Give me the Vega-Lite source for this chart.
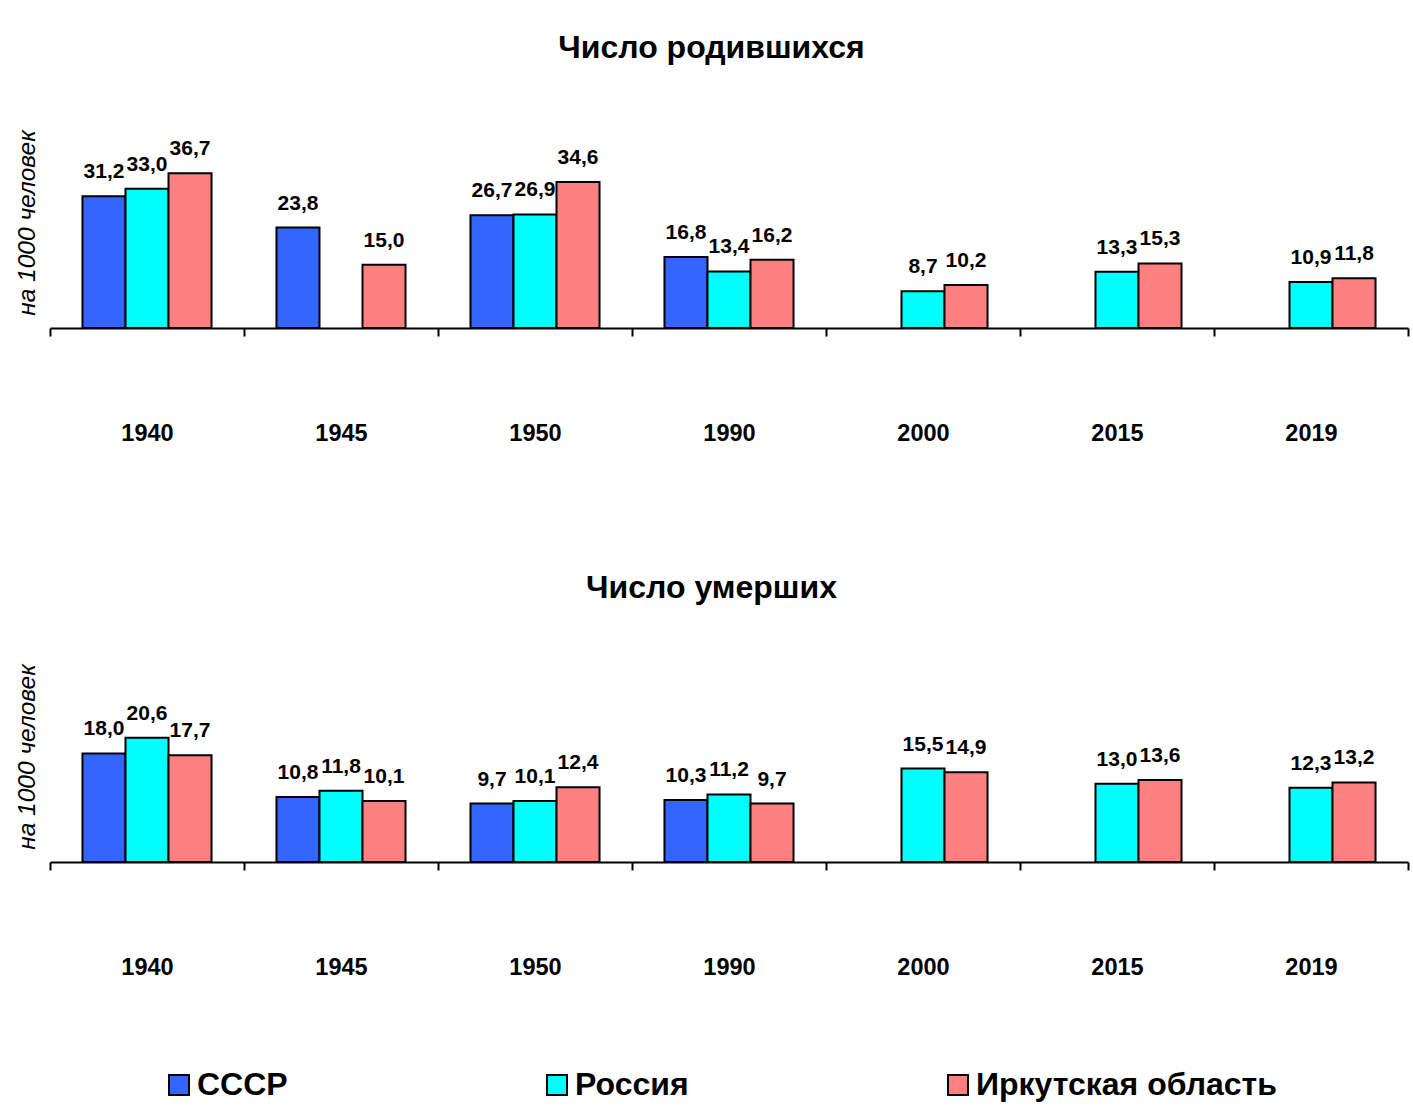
{
  "$schema": "https://vega.github.io/schema/vega-lite/v6.json",
  "background": "#ffffff",
  "padding": {"left": 14, "top": 32, "right": 5, "bottom": 5},
  "datasets": {
    "births": [
      {"year": "1940", "region": "СССР", "value": 31.2},
      {"year": "1940", "region": "Россия", "value": 33.0},
      {"year": "1940", "region": "Иркутская область", "value": 36.7},
      {"year": "1945", "region": "СССР", "value": 23.8},
      {"year": "1945", "region": "Иркутская область", "value": 15.0},
      {"year": "1950", "region": "СССР", "value": 26.7},
      {"year": "1950", "region": "Россия", "value": 26.9},
      {"year": "1950", "region": "Иркутская область", "value": 34.6},
      {"year": "1990", "region": "СССР", "value": 16.8},
      {"year": "1990", "region": "Россия", "value": 13.4},
      {"year": "1990", "region": "Иркутская область", "value": 16.2},
      {"year": "2000", "region": "Россия", "value": 8.7},
      {"year": "2000", "region": "Иркутская область", "value": 10.2},
      {"year": "2015", "region": "Россия", "value": 13.3},
      {"year": "2015", "region": "Иркутская область", "value": 15.3},
      {"year": "2019", "region": "Россия", "value": 10.9},
      {"year": "2019", "region": "Иркутская область", "value": 11.8}
    ],
    "deaths": [
      {"year": "1940", "region": "СССР", "value": 18.0},
      {"year": "1940", "region": "Россия", "value": 20.6},
      {"year": "1940", "region": "Иркутская область", "value": 17.7},
      {"year": "1945", "region": "СССР", "value": 10.8},
      {"year": "1945", "region": "Россия", "value": 11.8},
      {"year": "1945", "region": "Иркутская область", "value": 10.1},
      {"year": "1950", "region": "СССР", "value": 9.7},
      {"year": "1950", "region": "Россия", "value": 10.1},
      {"year": "1950", "region": "Иркутская область", "value": 12.4},
      {"year": "1990", "region": "СССР", "value": 10.3},
      {"year": "1990", "region": "Россия", "value": 11.2},
      {"year": "1990", "region": "Иркутская область", "value": 9.7},
      {"year": "2000", "region": "Россия", "value": 15.5},
      {"year": "2000", "region": "Иркутская область", "value": 14.9},
      {"year": "2015", "region": "Россия", "value": 13.0},
      {"year": "2015", "region": "Иркутская область", "value": 13.6},
      {"year": "2019", "region": "Россия", "value": 12.3},
      {"year": "2019", "region": "Иркутская область", "value": 13.2}
    ]
  },
  "vconcat": [
    {
      "title": {"text": "Число родившихся", "offset": 52},
      "width": 1358,
      "height": 211,
      "data": {"name": "births"},
      "encoding": {
        "x": {"field": "year", "type": "nominal", "sort": null,
              "scale": {"paddingInner": 0, "paddingOuter": 0},
              "axis": {"title": null}},
        "xOffset": {"field": "region", "type": "nominal", "sort": ["СССР", "Россия", "Иркутская область"],
                    "scale": {"domain": ["СССР", "Россия", "Иркутская область"], "paddingInner": 0, "paddingOuter": 0.755}},
        "y": {"field": "value", "type": "quantitative", "scale": {"domain": [0, 50], "nice": false},
              "axis": {"title": "на 1000 человек"}}
      },
      "layer": [
        {"mark": {"type": "bar", "stroke": "#000000", "strokeWidth": 2},
         "encoding": {"color": {"field": "region", "type": "nominal",
            "scale": {"domain": ["СССР", "Россия", "Иркутская область"], "range": ["#3366ff", "#00ffff", "#ff8080"]},
            "legend": {"title": null, "orient": "none", "direction": "horizontal", "legendX": 113, "legendY": 952,
                       "columnPadding": 253, "symbolType": "square", "symbolSize": 400, "symbolStrokeColor": "#000000",
                       "symbolStrokeWidth": 2, "symbolOpacity": 1, "labelFontSize": 32, "labelFontWeight": "bold",
                       "labelFont": "Liberation Sans", "labelColor": "#000000", "labelOffset": 2, "labelLimit": 0}}}},
        {"mark": {"type": "text", "baseline": "alphabetic", "dy": -18, "font": "Liberation Sans", "fontWeight": "bold", "fontSize": 21, "color": "#000000"},
         "encoding": {"text": {"field": "value", "type": "quantitative", "format": ".1f"}}}
      ]
    },
    {
      "title": {"text": "Число умерших", "offset": 46},
      "width": 1358,
      "height": 211,
      "data": {"name": "deaths"},
      "encoding": {
        "x": {"field": "year", "type": "nominal", "sort": null,
              "scale": {"paddingInner": 0, "paddingOuter": 0},
              "axis": {"title": null}},
        "xOffset": {"field": "region", "type": "nominal", "sort": ["СССР", "Россия", "Иркутская область"],
                    "scale": {"domain": ["СССР", "Россия", "Иркутская область"], "paddingInner": 0, "paddingOuter": 0.755}},
        "y": {"field": "value", "type": "quantitative", "scale": {"domain": [0, 35], "nice": false},
              "axis": {"title": "на 1000 человек"}}
      },
      "layer": [
        {"mark": {"type": "bar", "stroke": "#000000", "strokeWidth": 2},
         "encoding": {"color": {"field": "region", "type": "nominal",
            "scale": {"domain": ["СССР", "Россия", "Иркутская область"], "range": ["#3366ff", "#00ffff", "#ff8080"]}}}},
        {"mark": {"type": "text", "baseline": "alphabetic", "dy": -18, "font": "Liberation Sans", "fontWeight": "bold", "fontSize": 21, "color": "#000000"},
         "encoding": {"text": {"field": "value", "type": "quantitative", "format": ".1f"}}}
      ]
    }
  ],
  "spacing": 127,
  "config": {
    "locale": {"number": {"decimal": ",", "thousands": " ", "grouping": [3], "currency": ["", " ₽"]}},
    "font": "Liberation Sans",
    "view": {"stroke": null},
    "title": {"fontSize": 32, "fontWeight": "bold", "font": "Liberation Sans", "color": "#000000", "anchor": "middle", "frame": "bounds"},
    "axisX": {"domainColor": "#000000", "domainWidth": 2, "tickColor": "#000000", "tickWidth": 2, "tickSize": 8,
              "tickBand": "extent", "labelAngle": 0, "labelFontSize": 23.5, "labelFontWeight": "bold",
              "labelFont": "Liberation Sans", "labelColor": "#000000", "labelPadding": 85, "grid": false},
    "axisY": {"domain": false, "ticks": false, "labels": false, "grid": false, "titleFont": "Liberation Sans",
              "titleFontStyle": "italic", "titleFontWeight": "normal", "titleFontSize": 24.5, "titleColor": "#000000",
              "titlePadding": 11}
  }
}
